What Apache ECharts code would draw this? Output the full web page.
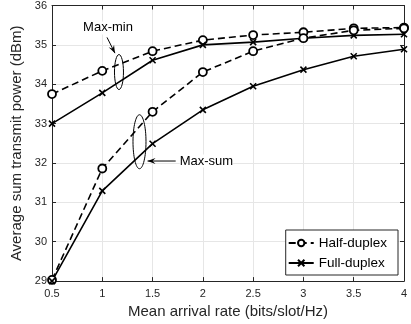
<!DOCTYPE html>
<html>
<head>
<meta charset="utf-8">
<script src="https://cdn.jsdelivr.net/npm/echarts@6/dist/echarts.min.js"></script>
<style>
  html, body { margin: 0; padding: 0; background: #fff; }
  #chart { width: 411px; height: 324px; }
</style>
</head>
<body>
<div id="chart"></div>
<script>
const rates = [0.5, 1, 1.5, 2, 2.5, 3, 3.5, 4];
const maxMinHalf = [33.75, 34.34, 34.84, 35.12, 35.25, 35.32, 35.42, 35.44];
const maxMinFull = [33.0, 33.78, 34.61, 35.0, 35.07, 35.17, 35.24, 35.27];
const maxSumHalf = [29.03, 31.86, 33.30, 34.31, 34.84, 35.17, 35.37, 35.42];
const maxSumFull = [29.0, 31.29, 32.49, 33.35, 33.95, 34.37, 34.71, 34.89];

const FONT = 'Liberation Sans, Arial, sans-serif';
const crossPath = 'path://M0,0L10,10M10,0L0,10';

const pairs = (ys) => rates.map((x, i) => [x, ys[i]]);

const halfStyle = {
  type: 'line',
  name: 'Half-duplex',
  symbol: 'circle',
  symbolSize: 8,
  showSymbol: true,
  itemStyle: { color: '#fff', borderColor: '#000', borderWidth: 1.8 },
  lineStyle: { color: '#000', width: 1.6, type: [7, 4] },
  emphasis: { disabled: true },
  z: 3
};
const fullStyle = {
  type: 'line',
  name: 'Full-duplex',
  symbol: crossPath,
  symbolSize: 6,
  showSymbol: true,
  itemStyle: { color: '#000', borderColor: '#000', borderWidth: 1.6 },
  lineStyle: { color: '#000', width: 1.6 },
  emphasis: { disabled: true },
  z: 3
};

const chart = echarts.init(document.getElementById('chart'));

const hiddenAxis = {
  axisLabel: { show: false },
  axisTick: { inside: true, length: 4, lineStyle: { color: '#262626' } },
  axisLine: { lineStyle: { color: '#262626' } },
  splitLine: { show: false }
};

chart.setOption({
  animation: false,
  textStyle: { fontFamily: FONT },
  grid: { left: 52, right: 7, top: 5, bottom: 42, containLabel: false },
  xAxis: [
    {
      type: 'value', min: 0.5, max: 4, interval: 0.5,
      name: 'Mean arrival rate (bits/slot/Hz)',
      nameLocation: 'middle', nameGap: 19,
      nameTextStyle: { fontSize: 15, color: '#262626', fontFamily: FONT },
      axisLabel: { fontSize: 11, color: '#262626', margin: 7, fontFamily: FONT },
      axisTick: { inside: true, length: 4, lineStyle: { color: '#262626' } },
      axisLine: { onZero: false, lineStyle: { color: '#262626' } },
      splitLine: { show: true, lineStyle: { color: '#e6e6e6', width: 1 } }
    },
    Object.assign({ type: 'value', position: 'top', min: 0.5, max: 4, interval: 0.5 }, hiddenAxis)
  ],
  yAxis: [
    {
      type: 'value', min: 29, max: 36, interval: 1,
      name: 'Average sum transmit power (dBm)',
      nameLocation: 'middle', nameGap: 21,
      nameTextStyle: { fontSize: 15, color: '#262626', fontFamily: FONT },
      axisLabel: { fontSize: 11, color: '#262626', margin: 5, fontFamily: FONT },
      axisTick: { inside: true, length: 4, lineStyle: { color: '#262626' } },
      axisLine: { onZero: false, lineStyle: { color: '#262626' } },
      splitLine: { show: true, lineStyle: { color: '#e6e6e6', width: 1 } }
    },
    Object.assign({ type: 'value', position: 'right', min: 29, max: 36, interval: 1 }, hiddenAxis)
  ],
  legend: {
    right: 13, bottom: 49,
    orient: 'vertical',
    data: ['Half-duplex', 'Full-duplex'],
    backgroundColor: '#fff',
    borderColor: '#262626', borderWidth: 1,
    padding: [6, 11, 5, 2],
    itemGap: 6,
    itemWidth: 25, itemHeight: 8,
    textStyle: { fontSize: 13.5, color: '#000', fontFamily: FONT },
    selectedMode: false
  },
  series: [
    Object.assign({}, halfStyle, { data: pairs(maxMinHalf) }),
    Object.assign({}, fullStyle, { data: pairs(maxMinFull) }),
    Object.assign({}, halfStyle, { data: pairs(maxSumHalf) }),
    Object.assign({}, fullStyle, { data: pairs(maxSumFull) })
  ]
});

// annotations placed in data coordinates
const px = (x, y) => chart.convertToPixel({ xAxisIndex: 0, yAxisIndex: 0 }, [x, y]);
const mmC = px(1.166, 34.31);
const msC = px(1.37, 32.54);
const mmArrowFrom = px(1.047, 35.19), mmArrowTo = px(1.126, 34.79);
const msArrowFrom = px(1.73, 32.05), msArrowTo = px(1.45, 32.05);

function arrowHead(from, to) {
  const dx = to[0] - from[0], dy = to[1] - from[1];
  const len = Math.sqrt(dx * dx + dy * dy);
  const ux = dx / len, uy = dy / len;
  const L = 8, W = 3;
  const bx = to[0] - ux * L, by = to[1] - uy * L;
  return [[to[0], to[1]], [bx - uy * W, by + ux * W], [to[0] - ux * 5, to[1] - uy * 5], [bx + uy * W, by - ux * W]];
}

chart.setOption({
  graphic: [
    { type: 'ellipse', shape: { cx: mmC[0], cy: mmC[1], rx: 4.5, ry: 17.5 },
      style: { fill: 'none', stroke: '#000', lineWidth: 1 }, z: 10 },
    { type: 'ellipse', shape: { cx: msC[0], cy: msC[1], rx: 6.5, ry: 27 },
      style: { fill: 'none', stroke: '#000', lineWidth: 1 }, z: 10 },
    { type: 'line', shape: { x1: mmArrowFrom[0], y1: mmArrowFrom[1], x2: mmArrowTo[0], y2: mmArrowTo[1] },
      style: { stroke: '#000', lineWidth: 1 }, z: 10 },
    { type: 'polygon', shape: { points: arrowHead(mmArrowFrom, mmArrowTo) },
      style: { fill: '#000' }, z: 10 },
    { type: 'line', shape: { x1: msArrowFrom[0], y1: msArrowFrom[1], x2: msArrowTo[0], y2: msArrowTo[1] },
      style: { stroke: '#000', lineWidth: 1 }, z: 10 },
    { type: 'polygon', shape: { points: arrowHead(msArrowFrom, msArrowTo) },
      style: { fill: '#000' }, z: 10 },
    { type: 'text', x: mmArrowFrom[0] + 1, y: mmArrowFrom[1] - 3,
      style: { text: 'Max-min', font: '13px ' + FONT, fill: '#000', align: 'center', verticalAlign: 'bottom', backgroundColor: '#fff' }, z: 10 },
    { type: 'text', x: msArrowFrom[0] + 4, y: msArrowFrom[1],
      style: { text: 'Max-sum', font: '13px ' + FONT, fill: '#000', align: 'left', verticalAlign: 'middle', backgroundColor: '#fff' }, z: 10 }
  ]
});
</script>
</body>
</html>
